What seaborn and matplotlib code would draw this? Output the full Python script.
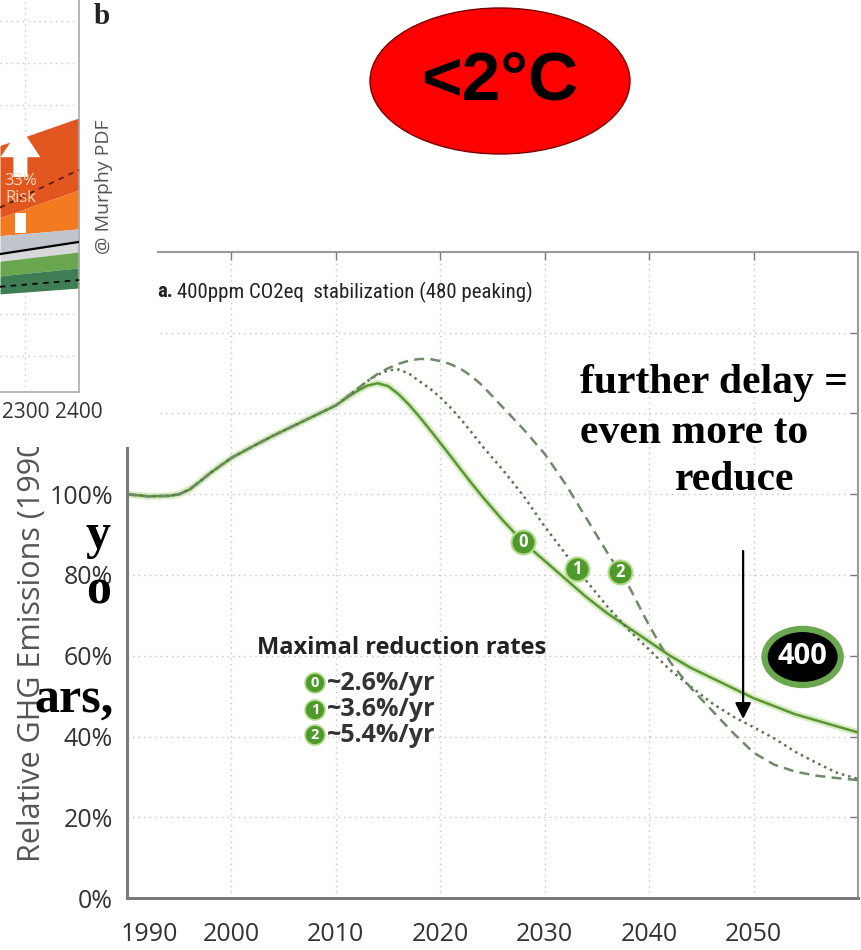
import numpy as np
import pandas as pd
import matplotlib
matplotlib.use("Agg")
import matplotlib.pyplot as plt
import seaborn as sns
from matplotlib.patches import Ellipse, Rectangle, FancyArrow
from matplotlib.transforms import ScaledTranslation
from matplotlib import font_manager as fm

# ---------------- data: panel a (main chart) ----------------
years = [1990, 1992, 1994, 1995, 1996, 1997, 1998, 2000, 2002, 2004, 2006, 2008,
         2010, 2011, 2012, 2013, 2014, 2015, 2016, 2017, 2018, 2019, 2020, 2021,
         2022, 2023, 2024, 2026, 2028, 2030, 2032, 2034, 2036, 2038, 2040, 2042,
         2044, 2046, 2048, 2050, 2052, 2054, 2056, 2058, 2060]
history = [100, 99.5, 99.6, 100, 101.2, 103.2, 105.3, 109, 111.8, 114.5, 117, 119.5]
path_0 = history + [122, 123.8, 125.5, 126.9, 127.5, 126.8, 124.8, 122.2, 119.2, 116,
                    112.7, 109.4, 106, 102.7, 99.5,
                    93.5, 88, 83.5, 79, 74.5, 70.5, 67, 63.5, 60, 57, 54.5, 52, 49.5,
                    47.5, 45.5, 44, 42.5, 41]
path_1 = history + [122, 124, 126, 128, 129.6, 130.7, 130.9, 129.9, 128, 126.2,
                    124, 121.4, 118.5, 115.3, 112,
                    106, 99.5, 92, 85.2, 78.5, 72.2, 66.5, 61.5, 56.5, 52.3, 48.3, 45,
                    42.3, 39.5, 36.2, 33.5, 31, 29.5]
path_2 = history + [122, 124, 126, 128, 129.8, 131.2, 132.3, 133.1, 133.5, 133.5,
                    133, 132.2, 131, 129.2, 127,
                    121.5, 116, 110, 102.5, 94, 85.5, 77.5, 67.5, 58.5, 52, 46.5, 41,
                    36, 33, 31.3, 30.3, 29.7, 29.2]
scenarios = ["0", "1", "2"]
rate_labels = ["~2.6%/yr", "~3.6%/yr", "~5.4%/yr"]
badge_years = [2027.9, 2033.1, 2037.2]
x_ticks = [1990, 2000, 2010, 2020, 2030, 2040, 2050]
y_ticks = [0, 20, 40, 60, 80, 100, 120, 140]
y_ticklabels = ["0%", "20%", "40%", "60%", "80%", "100%", "", ""]  # upper ones hidden in the slide
y_label = "Relative GHG Emissions (1990"
stab_label = "400"
stab_year, stab_level = 2054.7, 59.7
arrow_year = 2049

# ---------------- data: panel b (fragment, top left) ----------------
b_years = [2253, 2400]
b_orange_top = [5.03, 5.69]
b_orange_split = [3.31, 3.97]
b_orange_bottom = [2.88, 3.04]
b_black_line = [2.44, 2.73]
b_gray_bottom = [2.27, 2.49]
b_green_split = [1.92, 2.11]
b_green_bottom = [1.49, 1.63]
b_orange_dash = [3.55, 4.45]
b_green_dash = [1.66, 1.82]
b_x_ticks = [2300, 2400]


def pick(cands):
    for c in cands:
        try:
            fm.findfont(fm.FontProperties(family=c), fallback_to_default=False)
            return c
        except Exception:
            pass
    return "DejaVu Sans"


sns.set_theme(style="white")
SANS = pick(["Open Sans", "Lato", "DejaVu Sans"])
NARROW = pick(["Liberation Sans Narrow", "Roboto Condensed", "Open Sans Condensed", "Lato"])
SERIF = pick(["Liberation Serif", "DejaVu Serif"])
ARIAL = pick(["Liberation Sans", "Arimo", "DejaVu Sans"])
plt.rcParams["font.family"] = [SANS, "DejaVu Sans"]

W, H = 862, 950


def fx(px):
    return px / W


def fy(py):
    return 1 - py / H


fig = plt.figure(figsize=(W / 100, H / 100), dpi=100)
fig.patch.set_facecolor("white")

# ---------------- main axes ----------------
ax = fig.add_axes([fx(127), fy(898), (858 - 127) / W, (898 - 252) / H], zorder=0)
ax.set_facecolor("white")

n = len(years)
df = pd.DataFrame({
    "year": years * 3,
    "emissions": path_0 + path_1 + path_2,
    "scenario": ["0"] * n + ["1"] * n + ["2"] * n,
})

sns.lineplot(data=df[df.scenario == "0"], x="year", y="emissions", color="#d8ecc4",
             lw=5, ax=ax, legend=False, zorder=2)
sns.lineplot(data=df, x="year", y="emissions", hue="scenario", style="scenario",
             palette={"0": "#5a9632", "1": "#5b7550", "2": "#6e8a68"},
             dashes={"0": "", "1": (1, 1.6), "2": (4, 2.5)},
             lw=1.8, ax=ax, legend=False, zorder=3)

ax.set_xlim(1990, 2060)
ax.set_ylim(0, 160)
ax.set_xticks(x_ticks)
ax.set_xticklabels([str(t) for t in x_ticks])
ax.set_yticks(y_ticks)
ax.set_yticklabels(y_ticklabels)
ax.set_xlabel("")
ax.set_ylabel("")
ax.grid(True, color="#c4c4c4", linestyle=(0, (1, 3)), lw=1.0)
ax.tick_params(direction="in", length=6, width=1, color="#777777", top=True, right=True,
               labelsize=18, labelcolor="#333333")
ax.tick_params(axis="x", pad=17)
ax.tick_params(axis="y", pad=10)
for side in ["left", "bottom"]:
    ax.spines[side].set_color("#7a7a7a")
    ax.spines[side].set_linewidth(2.2)
for side in ["top", "right"]:
    ax.spines[side].set_color("#9a9a9a")
    ax.spines[side].set_linewidth(1.5)
# first year label sits just right of the corner
first = ax.get_xticklabels()[0]
first.set_transform(first.get_transform() + ScaledTranslation(0.22, 0, fig.dpi_scale_trans))

series = [path_0, path_1, path_2]
for i, yr in enumerate(badge_years):
    yv = np.interp(yr, years, series[i])
    ax.scatter([yr], [yv], s=300, c="#4e9a2b", edgecolors="#b5dc8e", linewidths=1.5, zorder=5)
    ax.text(yr, yv, scenarios[i], color="white", weight="bold", ha="center", va="center",
            fontsize=12, zorder=6)

ax.add_patch(Ellipse((stab_year, stab_level), 7.3, 13.9, facecolor="black",
                     edgecolor="#6aa84f", lw=4.5, zorder=5))
ax.text(stab_year, stab_level, stab_label, color="white", weight="bold", ha="center",
        va="center", fontsize=21, zorder=6)

tip = np.interp(arrow_year, years, path_1)
ax.annotate("", xy=(arrow_year, tip), xytext=(arrow_year, 86.6),
            arrowprops=dict(arrowstyle="-|>", color="black", lw=1.6, mutation_scale=24),
            zorder=7)

# y label (belongs to axes so it sits under the cover)
ax.text(fx(32), fy(862), y_label, transform=fig.transFigure,
        rotation=90, ha="center", va="bottom", fontsize=22, color="#555555")

# legend block
fig.text(fx(402), fy(648), "Maximal reduction rates", ha="center", va="center",
         fontsize=17, weight="bold", color="#222222")
for i, (lab, py) in enumerate(zip(rate_labels, [683, 710, 735])):
    fig.add_artist(Ellipse((fx(315), fy(py)), 20 / W, 20 / H, transform=fig.transFigure,
                           facecolor="#4e9a2b", edgecolor="#b5dc8e", lw=1.2, zorder=4))
    fig.text(fx(315), fy(py), scenarios[i], ha="center", va="center", fontsize=10.5,
             weight="bold", color="white", zorder=5)
    fig.text(fx(327), fy(py), lab, ha="left", va="center", fontsize=18, weight="bold",
             color="#333333")

# title of panel a
r = fig.canvas.get_renderer()
ta = fig.text(fx(157), fy(292), "a.", ha="left", va="center", fontsize=15, weight="bold",
              family=[NARROW, "DejaVu Sans"], color="#222222")
bb = ta.get_window_extent(renderer=r)
fig.text(bb.x1 / W + 4 / W, fy(292), "400ppm CO2eq  stabilization (480 peaking)", ha="left",
         va="center", fontsize=15, family=[NARROW, "DejaVu Sans"], color="#222222")

# ---------------- cover for overlapped region ----------------
fig.add_artist(Rectangle((0, fy(447)), fx(157), 447 / H, transform=fig.transFigure,
                         facecolor="white", edgecolor="none", zorder=1))

# ---------------- panel b fragment ----------------
axb = fig.add_axes([0, fy(392), fx(79), 392 / H], zorder=2)
axb.set_facecolor("white")
axb.set_xlim(2253, 2400)
axb.set_ylim(-0.85, 8.5)
axb.fill_between(b_years, b_orange_split, b_orange_top, color="#e2561f", lw=0, zorder=1)
axb.fill_between(b_years, b_orange_bottom, b_orange_split, color="#f47a22", lw=0, zorder=1)
axb.fill_between(b_years, b_black_line, b_orange_bottom, color="#bfc5ca", lw=0, zorder=1)
axb.fill_between(b_years, b_gray_bottom, b_black_line, color="#d6d8da", lw=0, zorder=1)
axb.fill_between(b_years, b_green_split, b_gray_bottom, color="#6aa650", lw=0, zorder=1)
axb.fill_between(b_years, b_green_bottom, b_green_split, color="#3f7d54", lw=0, zorder=1)
sns.lineplot(x=b_years, y=b_black_line, color="black", lw=1.6, ax=axb, zorder=3)
sns.lineplot(x=b_years, y=b_orange_dash, color="#5a1a08", lw=1.3, ax=axb, zorder=3,
             linestyle=(0, (3, 3)))
sns.lineplot(x=b_years, y=b_green_dash, color="black", lw=1.3, ax=axb, zorder=3,
             linestyle=(0, (3, 3)))
axb.add_patch(FancyArrow(2291, 4.28, 0, 1.19, width=26, head_width=74, head_length=0.72,
                         length_includes_head=True, color="white", lw=0, zorder=4))
axb.text(2291, 4.18, "33%", color="#fcd9bd", fontsize=12, ha="center", va="center", zorder=5)
axb.text(2291, 3.78, "Risk", color="#fcd9bd", fontsize=12, ha="center", va="center", zorder=5)
axb.add_patch(Rectangle((2280, 2.95), 22, 0.47, color="white", lw=0, zorder=4))
axb.set_xticks(b_x_ticks)
axb.set_xticklabels([str(t) for t in b_x_ticks])
axb.set_yticks(range(0, 9))
axb.set_yticklabels([])
axb.grid(True, color="#c8c8c8", linestyle=(0, (1, 3)), lw=1.0)
axb.tick_params(direction="in", length=4, color="#999999", labelsize=15,
                labelcolor="#333333", pad=7, left=False)
for side in ["left", "top"]:
    axb.spines[side].set_visible(False)
for side in ["right", "bottom"]:
    axb.spines[side].set_color("#aaaaaa")
    axb.spines[side].set_linewidth(1.2)
axb.set_xlabel("")
axb.set_ylabel("")

fig.text(fx(102), fy(16), "b", ha="center", va="center", fontsize=21, weight="bold",
         family=[SERIF, "DejaVu Serif"], color="#222222")
fig.text(fx(104), fy(187), "@ Murphy PDF", rotation=90, ha="center", va="center",
         fontsize=14, color="#555555")

# ---------------- slide overlays ----------------
fig.add_artist(Ellipse((fx(500), fy(81)), 260 / W, 146 / H, transform=fig.transFigure,
                       facecolor="#ff0000", edgecolor="#7a0000", lw=1, zorder=4))
fig.text(fx(500), fy(81), "<2°C", ha="center", va="center", fontsize=50, weight="bold",
         family=[ARIAL, "DejaVu Sans"], color="black", zorder=5)

serif = dict(family=[SERIF, "DejaVu Serif"], weight="bold", color="black", fontsize=30)
fig.text(fx(580), fy(393), "further delay =", ha="left", va="baseline", **serif)
fig.text(fx(580), fy(443), "even more to", ha="left", va="baseline", **serif)
fig.text(fx(675), fy(490), "reduce", ha="left", va="baseline", **serif)

frag = dict(family=[SERIF, "DejaVu Serif"], weight="bold", color="black", fontsize=36)
fig.text(fx(111), fy(548), "y", ha="right", va="baseline", **frag)
fig.text(fx(111), fy(603), "o", ha="right", va="baseline", **frag)
fig.text(fx(114), fy(712), "ars,", ha="right", va="baseline", **frag)

fig.savefig("out.png", dpi=100)
